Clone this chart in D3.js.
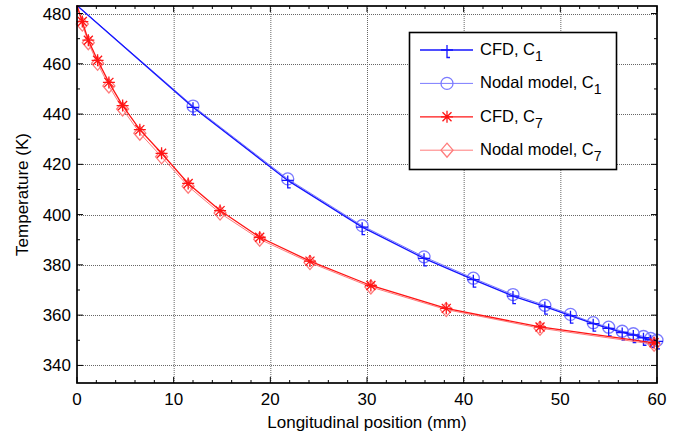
<!DOCTYPE html>
<html>
<head>
<meta charset="utf-8">
<script src="https://cdn.jsdelivr.net/npm/d3@7.9.0/dist/d3.min.js"></script>
<style>
  body { margin: 0; background: #fff; }
  svg { display: block; font-family: "Liberation Sans", Arial, sans-serif; }
</style>
</head>
<body>
<svg id="chart" width="681" height="436"></svg>
<script>
// inlet temperature, shared by all curves at x = 0
const inletT = 483.2;

// C1 position (mm) and temperatures (K)
const xC1 = [0, 12.0, 21.8, 29.5, 35.9, 41.0, 45.1, 48.4, 51.05, 53.4, 55.0, 56.4, 57.55, 58.6, 59.35, 60.0];
const cfdC1 = [inletT, 442.7, 413.6, 395.0, 382.6, 374.1, 367.6, 363.4, 359.8, 356.6, 354.7, 353.1, 352.1, 351.0, 350.2, 349.6];
const nodalC1 = [inletT, 443.2, 414.2, 395.6, 383.2, 374.7, 368.2, 363.9, 360.3, 357.0, 355.2, 353.6, 352.6, 351.5, 350.7, 350.0];

// C7 position (mm) and temperatures (K)
const xC7 = [0, 0.55, 1.17, 2.13, 3.3, 4.72, 6.5, 8.75, 11.5, 14.8, 18.9, 24.1, 30.4, 38.2, 47.9, 59.7];
const cfdC7 = [inletT, 476.8, 469.4, 461.4, 452.6, 443.4, 433.8, 424.4, 412.4, 401.6, 391.0, 381.5, 371.8, 362.7, 355.3, 349.0];
const nodalC7 = [inletT, 475.8, 468.4, 460.2, 451.2, 442.0, 432.4, 423.0, 411.3, 400.6, 390.2, 380.9, 371.2, 362.2, 354.8, 348.4];

const xTicks = [0, 10, 20, 30, 40, 50, 60];
const yTicks = [340, 360, 380, 400, 420, 440, 460, 480];

const series = [
  { name: "CFD, C", sub: "1", xs: xC1, ys: cfdC1, color: "#1414ff", width: 1.3, marker: "plus" },
  { name: "Nodal model, C", sub: "1", xs: xC1, ys: nodalC1, color: "#7b7bff", width: 1, marker: "circle" },
  { name: "CFD, C", sub: "7", xs: xC7, ys: cfdC7, color: "#ff1414", width: 1.3, marker: "star" },
  { name: "Nodal model, C", sub: "7", xs: xC7, ys: nodalC7, color: "#ff7b7b", width: 1, marker: "diamond" }
];

const svg = d3.select("#chart");
const pL = 77, pR = 657, pT = 6, pB = 383;

const x = d3.scaleLinear().domain([0, 60]).range([pL, pR]);
const y = d3.scaleLinear().domain([333, 483]).range([pB, pT]);

// grid
const grid = svg.append("g").attr("stroke", "#666").attr("stroke-width", 1).attr("stroke-dasharray", "1,1");
xTicks.slice(1, -1).forEach(t => {
  grid.append("line").attr("x1", x(t) + 0.5).attr("x2", x(t) + 0.5).attr("y1", pT).attr("y2", pB);
});
yTicks.forEach(t => {
  grid.append("line").attr("x1", pL).attr("x2", pR).attr("y1", Math.round(y(t)) + 0.5).attr("y2", Math.round(y(t)) + 0.5);
});

// markers
function drawMarker(g, type, cx, cy, color) {
  const m = g.append("g").attr("transform", `translate(${cx},${cy})`)
    .attr("fill", "none").attr("stroke", color).attr("stroke-width", 1.3);
  if (type === "circle") {
    m.append("circle").attr("r", 6);
  } else if (type === "diamond") {
    m.append("path").attr("d", "M0,-7L6,0L0,7L-6,0Z");
  } else if (type === "plus") {
    m.append("path").attr("d", "M-6,0H6M0,-5V7.5H3");
  } else if (type === "star") {
    m.append("path").attr("d", "M-6,0H6M0,-6V6M-4.5,-4.5L4.5,4.5M-4.5,4.5L4.5,-4.5");
  }
}

const plot = svg.append("g");
const line = d3.line().x(d => x(d[0])).y(d => y(d[1]));
// draw nodal first then CFD on top
[1, 0, 3, 2].forEach(i => {
  const s = series[i];
  const pts = s.xs.map((v, j) => [v, s.ys[j]]);
  plot.append("path").datum(pts).attr("d", line)
    .attr("fill", "none").attr("stroke", s.color).attr("stroke-width", s.width);
  pts.slice(1).forEach(p => drawMarker(plot, s.marker, x(p[0]), y(p[1]), s.color));
});

// axes box and ticks
const ax = svg.append("g").attr("stroke", "#000");
ax.append("rect").attr("x", pL).attr("y", pT).attr("width", pR - pL).attr("height", pB - pT)
  .attr("fill", "none").attr("stroke-width", 1.7);

const xMinor = d3.range(0, 61, 2);
xMinor.forEach(t => {
  const len = t % 10 === 0 ? 6 : 3;
  const px = x(t);
  ax.append("line").attr("x1", px).attr("x2", px).attr("y1", pB).attr("y2", pB - len).attr("stroke-width", 1);
  ax.append("line").attr("x1", px).attr("x2", px).attr("y1", pT).attr("y2", pT + len).attr("stroke-width", 1);
});
const yMinor = d3.range(340, 481, 10);
yMinor.forEach(t => {
  const len = t % 20 === 0 ? 6 : 3;
  const py = y(t);
  ax.append("line").attr("x1", pL).attr("x2", pL + len).attr("y1", py).attr("y2", py).attr("stroke-width", 1);
  ax.append("line").attr("x1", pR).attr("x2", pR - len).attr("y1", py).attr("y2", py).attr("stroke-width", 1);
});

// tick labels
const lab = svg.append("g").attr("fill", "#000").attr("font-size", 17);
xTicks.forEach(t => {
  lab.append("text").attr("x", x(t)).attr("y", 405).attr("text-anchor", "middle").text(t);
});
yTicks.forEach(t => {
  lab.append("text").attr("x", 71).attr("y", y(t) + 6).attr("text-anchor", "end").text(t);
});

svg.append("text").attr("x", (pL + pR) / 2).attr("y", 428).attr("text-anchor", "middle")
  .attr("font-size", 17).text("Longitudinal position (mm)");
svg.append("text").attr("transform", `translate(28,${(pT + pB) / 2}) rotate(-90)`)
  .attr("text-anchor", "middle").attr("font-size", 17).text("Temperature (K)");

// legend
const lg = svg.append("g");
lg.append("rect").attr("x", 409.5).attr("y", 32.5).attr("width", 207).attr("height", 137)
  .attr("fill", "#fff").attr("stroke", "#000").attr("stroke-width", 1.6);
series.forEach((s, i) => {
  const ly = 50 + i * 33.4;
  lg.append("line").attr("x1", 420).attr("x2", 473).attr("y1", ly).attr("y2", ly)
    .attr("stroke", s.color).attr("stroke-width", s.width);
  drawMarker(lg, s.marker, 447, ly, s.color);
  const t = lg.append("text").attr("x", 480).attr("y", ly + 5).attr("font-size", 16.5);
  t.append("tspan").text(s.name);
  t.append("tspan").attr("dy", 6).attr("font-size", 14).text(s.sub);
});
</script>
</body>
</html>
